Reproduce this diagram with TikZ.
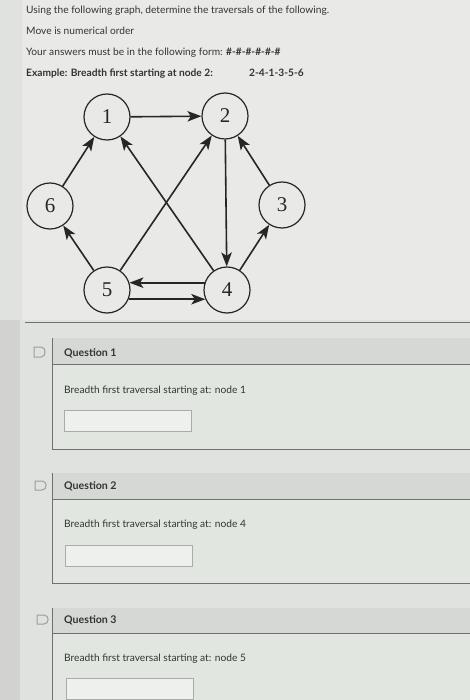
\documentclass[tikz,border=0pt]{standalone}
\usepackage{fontspec}
\setmainfont{Lato}
\newfontfamily\numfont{Liberation Serif}
\usetikzlibrary{arrows.meta}
\definecolor{bgc}{HTML}{E0E2DF}
\definecolor{graphbg}{HTML}{E9EAE7}
\definecolor{stripc}{HTML}{D2D3D1}
\definecolor{headc}{HTML}{D5D8D4}
\definecolor{bodyc}{HTML}{E2E6E1}
\definecolor{linec}{HTML}{6E716D}
\definecolor{txtc}{HTML}{333533}
\definecolor{edgec}{HTML}{262626}
\definecolor{boxc}{HTML}{A9ACA8}
\definecolor{iconc}{HTML}{9C9E9B}
\begin{document}
\begin{tikzpicture}[x=1pt,y=-1pt,
  vert/.style={circle,draw=edgec,line width=1.2pt,minimum size=46pt,inner sep=0pt,
    font=\numfont\fontsize{21}{21}\selectfont,text=edgec},
  arr/.style={-{Stealth[length=14pt,width=10.5pt,inset=3.5pt]},line width=1.6pt,draw=edgec},
  txt/.style={anchor=base west,inner sep=0pt,font=\fontsize{10.2}{12}\selectfont,text=txtc},
  btxt/.style={txt,font=\fontsize{10.2}{12}\selectfont\bfseries},
  qhead/.style={txt,font=\fontsize{10.6}{12}\selectfont\bfseries},
  ansbox/.style={draw=boxc,line width=0.9pt,fill=bodyc!60!white,minimum width=127pt,minimum height=21pt,inner sep=0pt,anchor=north west},
  icon/.style={draw=iconc,line width=1pt},
  frame/.style={draw=linec,line width=0.8pt}]
\useasboundingbox (0,0) rectangle (470,700);
% backgrounds
\fill[bgc] (0,0) rectangle (470,700);
\fill[graphbg] (22,0) rectangle (470,320);
\fill[stripc] (0,320) rectangle (20,700);
% top texts
\node[txt] (l1) at (26,14) {Using the following graph, determine the traversals of the following.};
\node[txt] (l2) at (26,35) {Move is numerical order};
\node[txt] (l3) at (26,56) {Your answers must be in the following form: \textbf{\#-\#-\#-\#-\#-\#}};
\node[btxt] (l4) at (26,77) {Example: Breadth first starting at node 2:};
\node[btxt] (l4b) at (249,77) {2-4-1-3-5-6};
% graph
\node[vert] (n1) at (107,117) {1};
\node[vert] (n2) at (225,116) {2};
\node[vert] (n6) at (50,206) {6};
\node[vert] (n3) at (282,205) {3};
\node[vert] (n5) at (107,290) {5};
\node[vert] (n4) at (227,290) {4};
\draw[arr] (n1) -- (n2);
\draw[arr] (n2) -- (n4);
\draw[arr] (n3) -- (n2);
\draw[arr] (n4) -- (n3);
\draw[arr] (n4) -- (n1);
\draw[arr] (n5) -- (n2);
\draw[arr] (n5) -- (n6);
\draw[arr] (n6) -- (n1);
\draw[arr] (n4.162) -- (n5.18);
\draw[arr] (n5.-23) -- (n4.-157);
% rule
\draw[frame] (25,322) -- (470,322);
% Question 1
\fill[headc] (52,338) rectangle (470,364);
\fill[bodyc] (52,364) rectangle (470,449);
\draw[frame] (52,338) -- (52,449) -- (470,449);
\draw[frame] (52,364) -- (470,364);
\draw[icon] (34,347) -- (41,347) .. controls (46.5,347) and (46.5,357) .. (41,357) -- (34,357) -- cycle;
\node[qhead] (q1) at (64,356) {Question 1};
\node[txt] (q1t) at (64,393) {Breadth first traversal starting at: node 1};
\node[ansbox] (a1) at (64,410) {};
% Question 2
\fill[headc] (52,473) rectangle (470,499);
\fill[bodyc] (52,499) rectangle (470,583);
\draw[frame] (52,473) -- (52,583) -- (470,583);
\draw[frame] (52,499) -- (470,499);
\draw[icon] (35,481) -- (42,481) .. controls (47.5,481) and (47.5,490) .. (42,490) -- (35,490) -- cycle;
\node[qhead] (q2) at (64,489) {Question 2};
\node[txt] (q2t) at (64,527) {Breadth first traversal starting at: node 4};
\node[ansbox] (a2) at (65,545) {};
% Question 3
\fill[headc] (52,608) rectangle (470,633);
\fill[bodyc] (52,633) rectangle (470,700);
\draw[frame] (52,608) -- (52,700);
\draw[frame] (52,633) -- (470,633);
\draw[icon] (37,615) -- (44,615) .. controls (49.5,615) and (49.5,624) .. (44,624) -- (37,624) -- cycle;
\node[qhead] (q3) at (64,623) {Question 3};
\node[txt] (q3t) at (64,661) {Breadth first traversal starting at: node 5};
\node[ansbox] (a3) at (66,678) {};
\end{tikzpicture}
\end{document}
